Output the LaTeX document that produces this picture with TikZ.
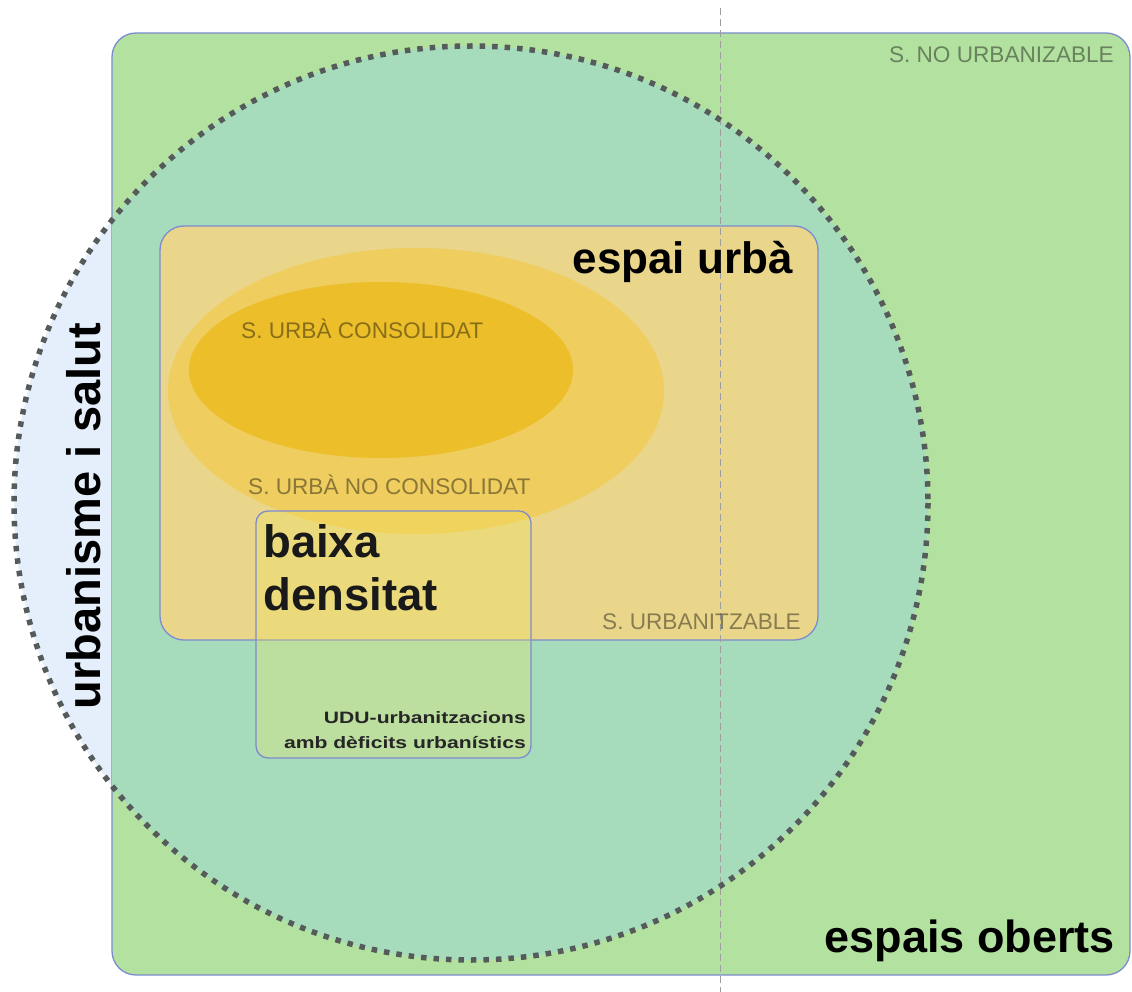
\documentclass[tikz,border=0pt]{standalone}
\usepackage{fontspec}
\setmainfont{Liberation Sans}
\newfontfamily\udufont[FakeStretch=1.28]{Liberation Sans}
\usepackage{xcolor}
\definecolor{obertsgreen}{HTML}{B3E1A0}
\definecolor{salutgreen}{HTML}{A6DCBC}
\definecolor{salutblue}{HTML}{E4EFFB}
\definecolor{urbaorange}{HTML}{EAD68A}
\definecolor{noconsol}{HTML}{EFCD5E}
\definecolor{consol}{HTML}{EBBE2A}
\definecolor{baixayellow}{HTML}{EFE45A}
\definecolor{edgeblue}{HTML}{7D8BCF}
\definecolor{dotgray}{HTML}{555B5A}

\begin{document}
\begin{tikzpicture}[x=1pt, y=-1pt,
    zone/.style = {draw=edgeblue, line width=1.3pt, rounded corners=24pt},
    salutring/.style = {draw=dotgray, line width=5.5pt, dash pattern=on 5.5pt off 7pt},
    graylabel/.style = {inner sep=0pt, text=black, text opacity=0.42, font=\fontsize{22.6}{26}\selectfont},
    biglabel/.style = {inner sep=0pt, font=\bfseries\fontsize{44}{53}\selectfont}]
        \useasboundingbox[fill=white] (0,0) rectangle (1132,992);

        \fill[salutblue] (471,503) circle (457);
        \draw[zone, fill=obertsgreen] (112,33) rectangle (1130,975);
        \begin{scope}
            \clip[rounded corners=24pt] (112,33) rectangle (1130,975);
            \fill[salutgreen] (471,503) circle (457);
        \end{scope}

        \draw[zone, fill=urbaorange] (160,226) rectangle (818,640);
        \fill[noconsol] (416,391) ellipse [x radius=248, y radius=143];
        \fill[consol] (381,370) ellipse [x radius=192, y radius=88];
        \draw[zone, rounded corners=12pt, fill=baixayellow, fill opacity=0.3] (256,511) rectangle (531,758);

        \draw[black!38, line width=0.8pt, dash pattern=on 7pt off 4pt] (720,8) -- (720,992);
        \draw[salutring] (471,503) circle (457);

        \node[graylabel, anchor=base east] (noUrb) at (1114,63) {S. NO URBANIZABLE};
        \node[biglabel, anchor=base east] (espaiUrba) at (793,273) {espai urbà};
        \node[graylabel, anchor=base west] (consolidat) at (241,338) {S. URBÀ CONSOLIDAT};
        \node[graylabel, anchor=base west] (noConsolidat) at (248,494) {S. URBÀ NO CONSOLIDAT};
        \node[biglabel, anchor=base west, align=left, text=black!90, font=\bfseries\fontsize{45.5}{53}\selectfont] (baixa) at (263,610) {baixa\\densitat};
        \node[graylabel, anchor=base west] (urbanitzable) at (602,629) {S. URBANITZABLE};
        \node[inner sep=0pt, anchor=base east, align=right, text=black!85,
              font=\udufont\bfseries\fontsize{16.5}{25}\selectfont] (udu) at (526,748)
              {UDU-urbanitzacions\\amb dèficits urbanístics};
        \node[biglabel, anchor=base east, font=\bfseries\fontsize{45}{53}\selectfont] (oberts) at (1115,952) {espais oberts};
        \node[biglabel, anchor=base, rotate=90, font=\bfseries\fontsize{47}{53}\selectfont] (salut) at (100,516) {urbanisme i salut};

    \end{tikzpicture}
\end{document}
